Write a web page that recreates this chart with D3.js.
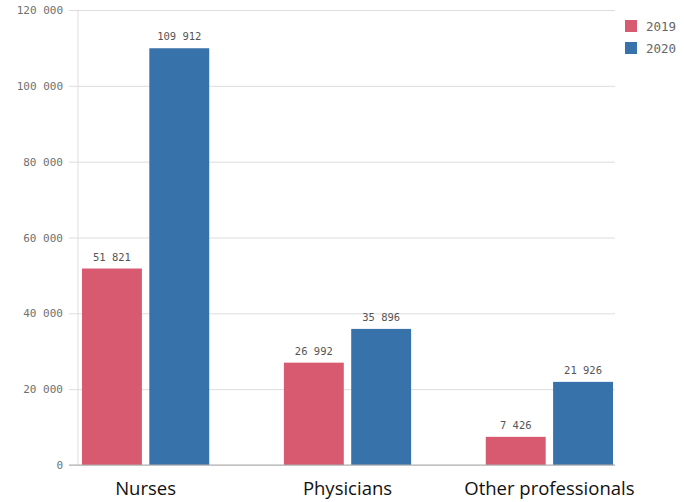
<!DOCTYPE html>
<html lang="en">
<head>
  <meta charset="UTF-8">
  <title>Health workers</title>
  <style>
    body { margin: 0; background: #fff; }
    .tick text { font-family: 'DejaVu Sans Mono', monospace; font-size: 11px; fill: #707070; }
  </style>
</head>
<body>
  <svg width="684" height="502"></svg>
  <script src="https://cdn.jsdelivr.net/npm/d3@7"></script>
  <script>
    var categories = ['Nurses', 'Physicians', 'Other professionals']
    var years = ['2019', '2020']
    var values2019 = [51821, 26992, 7426]
    var values2020 = [109912, 35896, 21926]
    var yTicks = [0, 20000, 40000, 60000, 80000, 100000, 120000]
    var colors = ['#d85a70', '#3872ab']

    var svg = d3.select('svg')
    var mLeft = 78, mRight = 615, mTop = 10, mBottom = 465

    var fmt = function(d) {
      return d3.format(',')(d).replace(/,/g, ' ')
    }

    var x0 = d3.scaleBand().domain(categories).range([80, mRight]).paddingInner(0.35).paddingOuter(0)
    var x1 = d3.scaleBand().domain(years).range([2, x0.bandwidth() - 2]).paddingInner(0.11)
    var y = d3.scaleLinear().domain([0, 120000]).range([mBottom, mTop])

    // grid
    svg.append('g')
      .attr('transform', 'translate(' + mLeft + ',0)')
      .call(d3.axisLeft(y).tickValues(yTicks).tickSize(-(mRight - mLeft)).tickPadding(15).tickFormat(fmt))
      .call(function(g) {
        g.select('.domain').remove()
        g.selectAll('.tick line').attr('stroke', '#dddddd').attr('x1', -9)
      })

    svg.append('line')
      .attr('x1', mLeft).attr('x2', mLeft)
      .attr('y1', mTop).attr('y2', mBottom)
      .attr('stroke', '#dddddd')

    var data = categories.map(function(c, i) {
      return { cat: c, vals: [values2019[i], values2020[i]] }
    })

    var groups = svg.selectAll('.grp')
      .data(data)
      .enter()
      .append('g')
      .attr('transform', function(d) { return 'translate(' + x0(d.cat) + ',0)' })

    groups.selectAll('rect')
      .data(function(d) { return d.vals.map(function(v, j) { return { year: years[j], v: v, j: j } }) })
      .enter()
      .append('rect')
      .attr('x', function(d) { return x1(d.year) })
      .attr('y', function(d) { return y(d.v) })
      .attr('width', x1.bandwidth())
      .attr('height', function(d) { return mBottom - y(d.v) })
      .attr('fill', function(d) { return colors[d.j] })

    groups.selectAll('.val')
      .data(function(d) { return d.vals.map(function(v, j) { return { year: years[j], v: v } }) })
      .enter()
      .append('text')
      .attr('x', function(d) { return x1(d.year) + x1.bandwidth() / 2 })
      .attr('y', function(d) { return y(d.v) - 8 })
      .attr('text-anchor', 'middle')
      .attr('font-family', 'DejaVu Sans Mono, monospace')
      .attr('font-size', '10.5px')
      .attr('fill', '#555')
      .text(function(d) { return fmt(d.v) })

    // baseline
    svg.append('line')
      .attr('x1', mLeft - 9).attr('x2', mRight)
      .attr('y1', mBottom).attr('y2', mBottom)
      .attr('stroke', '#aaaaaa')

    // category labels
    svg.selectAll('.cat')
      .data(categories)
      .enter()
      .append('text')
      .attr('x', function(d) { return x0(d) + x0.bandwidth() / 2 })
      .attr('y', 495)
      .attr('text-anchor', 'middle')
      .attr('font-family', 'Open Sans, sans-serif')
      .attr('font-size', '18.5px')
      .attr('fill', '#111')
      .text(function(d) { return d })

    // legend
    var leg = svg.selectAll('.leg')
      .data(years)
      .enter()
      .append('g')
      .attr('transform', function(d, i) { return 'translate(625,' + (20 + i * 22) + ')' })
    leg.append('rect').attr('width', 12).attr('height', 12)
      .attr('fill', function(d, i) { return colors[i] })
    leg.append('text').attr('x', 21).attr('y', 11)
      .attr('font-family', 'DejaVu Sans Mono, monospace')
      .attr('font-size', '12.5px')
      .attr('fill', '#666')
      .text(function(d) { return d })
  </script>
</body>
</html>
